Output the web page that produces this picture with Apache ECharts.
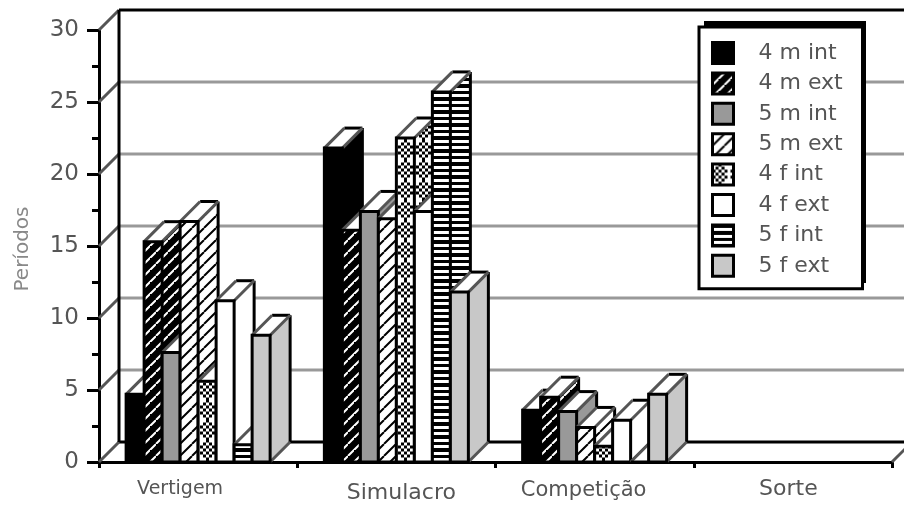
<!DOCTYPE html>
<html>
<head>
<meta charset="utf-8">
<style>html,body{margin:0;padding:0;background:#fff}#chart{width:904px;height:506px}</style>
<script src="https://cdn.jsdelivr.net/npm/echarts@6/dist/echarts.min.js"></script>
</head>
<body>
<div id="chart"></div>
<script>
// Períodos por categoria de jogo, por grupo (ano, sexo, tipo)
const categories = ['Vertigem', 'Simulacro', 'Competição', 'Sorte'];
const yTicks = [0, 5, 10, 15, 20, 25, 30];
const seriesNames = ['4 m int', '4 m ext', '5 m int', '5 m ext', '4 f int', '4 f ext', '5 f int', '5 f ext'];
const m4Int = [4.7, 21.8, 3.6, null];
const m4Ext = [15.3, 16.1, 4.5, null];
const m5Int = [7.6, 17.4, 3.5, null];
const m5Ext = [16.7, 16.9, 2.4, null];
const f4Int = [5.6, 22.5, 1.1, null];
const f4Ext = [11.2, 17.4, 2.9, null];
const f5Int = [1.2, 25.7, 0, null];
const f5Ext = [8.8, 11.8, 4.7, null];
const allValues = [m4Int, m4Ext, m5Int, m5Ext, f4Int, f4Ext, f5Int, f5Ext];

const DEPTH = 20;
const BAR_STEP = 18;
const BAR_COUNT = 8;
const TEXT_FONT = 'DejaVu Sans';

function tile(w, h, paint) {
  const c = document.createElement('canvas');
  c.width = w; c.height = h;
  paint(c.getContext('2d'));
  return { image: c, repeat: 'repeat' };
}
function hatch(ctx, size, color, width) {
  ctx.strokeStyle = color; ctx.lineWidth = width;
  ctx.beginPath();
  [-size, 0, size].forEach(function (o) {
    ctx.moveTo(o, size); ctx.lineTo(o + size, 0);
  });
  ctx.stroke();
}
const darkHatch = tile(12, 12, function (ctx) {
  ctx.fillStyle = '#000'; ctx.fillRect(0, 0, 12, 12);
  hatch(ctx, 12, '#fff', 2);
  ctx.fillStyle = '#000';
  ctx.fillRect(0, 0, 2, 3); ctx.fillRect(6, 6, 3, 2);
});
const lightHatch = tile(12, 12, function (ctx) {
  ctx.fillStyle = '#fff'; ctx.fillRect(0, 0, 12, 12);
  hatch(ctx, 12, '#000', 2);
});
// Checkered diamond, three pixels per cell, five cells across
const diamonds = tile(18, 20, function (ctx) {
  ctx.fillStyle = '#fff'; ctx.fillRect(0, 0, 18, 20);
  ctx.fillStyle = '#000';
  for (let gx = 0; gx < 5; gx++) {
    for (let gy = 0; gy < 7; gy++) {
      if (Math.abs(gx - 2) + Math.abs(gy - 3) <= 3 && (gx + gy) % 2 === 0) {
        ctx.fillRect(gx * 3, gy * 3 - 0.5, 3, 3);
      }
    }
  }
});
const stripes = tile(4, 13, function (ctx) {
  ctx.fillStyle = '#fff'; ctx.fillRect(0, 0, 4, 13);
  ctx.fillStyle = '#000';
  ctx.fillRect(0, 0, 4, 3); ctx.fillRect(0, 6, 4, 4);
});
const fills = ['#000000', darkHatch, '#999999', lightHatch, diamonds, '#ffffff', stripes, '#c8c8c8'];

// Back wall and floor: gridlines plus the slanted joints to the front axes
function renderWall(params, api) {
  const v = api.value(1);
  const a = api.coord([0, v]);
  const halfBand = api.size([1, 0])[0] / 2;
  const left = a[0] - halfBand;
  const right = left + halfBand * 2 * categories.length;
  const y = a[1];
  const edge = v === 0 || v === 30;
  const children = [
    { type: 'line', shape: { x1: left + DEPTH, y1: y - DEPTH, x2: right + DEPTH, y2: y - DEPTH },
      style: { stroke: edge ? '#000' : '#999', lineWidth: 3 } },
    { type: 'line', shape: { x1: left, y1: y, x2: left + DEPTH, y2: y - DEPTH },
      style: { stroke: '#555', lineWidth: 3 } }
  ];
  if (v === 0) {
    children.push({ type: 'line', shape: { x1: right, y1: y, x2: right + DEPTH, y2: y - DEPTH },
      style: { stroke: '#555', lineWidth: 3 } });
  }
  if (v === 30) {
    const floor = api.coord([0, 0])[1];
    children.push({ type: 'line', shape: { x1: left + DEPTH, y1: y - DEPTH, x2: left + DEPTH, y2: floor - DEPTH },
      style: { stroke: '#000', lineWidth: 3 } });
  }
  return { type: 'group', children: children };
}

// One oblique box: side face, top face and front face
function renderBox(index) {
  return function (params, api) {
    const v = api.value(1);
    if (isNaN(v)) return;
    const p = api.coord([api.value(0), v]);
    const base = api.coord([api.value(0), 0])[1];
    const x = p[0] - BAR_STEP * BAR_COUNT / 2 + BAR_STEP * index;
    const r = x + BAR_STEP;
    const y = p[1];
    // The diamond tile is anchored to the box so whole diamonds fit each face
    const fill = fills[index] === diamonds
      ? { image: diamonds.image, repeat: 'repeat', x: Math.round(x + 1.5), y: 0 }
      : fills[index];
    const ink = { stroke: '#000', lineWidth: 3 };
    const slant = { stroke: '#555', lineWidth: 3 };
    return {
      type: 'group',
      children: [
        { type: 'polygon', shape: { points: [[r, y], [r + DEPTH, y - DEPTH], [r + DEPTH, base - DEPTH], [r, base]] },
          style: { fill: fill, stroke: null } },
        { type: 'polygon', shape: { points: [[x, y], [x + DEPTH, y - DEPTH], [r + DEPTH, y - DEPTH], [r, y]] },
          style: { fill: '#fff', stroke: null } },
        { type: 'line', shape: { x1: x + DEPTH, y1: y - DEPTH, x2: r + DEPTH, y2: y - DEPTH }, style: ink },
        { type: 'line', shape: { x1: r + DEPTH, y1: y - DEPTH, x2: r + DEPTH, y2: base - DEPTH }, style: ink },
        { type: 'line', shape: { x1: x, y1: y, x2: x + DEPTH, y2: y - DEPTH }, style: slant },
        { type: 'line', shape: { x1: r, y1: y, x2: r + DEPTH, y2: y - DEPTH }, style: slant },
        { type: 'line', shape: { x1: r, y1: base, x2: r + DEPTH, y2: base - DEPTH }, style: slant },
        { type: 'rect', shape: { x: x, y: y, width: BAR_STEP, height: base - y },
          style: { fill: fill, stroke: '#000', lineWidth: 3 } }
      ]
    };
  };
}

const boxSeries = seriesNames.map(function (name, i) {
  return {
    name: name,
    type: 'custom',
    coordinateSystem: 'cartesian2d',
    clip: false,
    itemStyle: { color: typeof fills[i] === 'string' ? fills[i] : '#000' },
    renderItem: renderBox(i),
    data: allValues[i].map(function (v, c) { return [c, v]; })
  };
});

const chart = echarts.init(document.getElementById('chart'));
chart.setOption({
  animation: false,
  backgroundColor: '#fff',
  grid: { left: 99, right: 12, top: 30, bottom: 44 },
  // Drop shadow of the legend box, offset up and to the right
  graphic: [{
    type: 'rect',
    z: 3,
    silent: true,
    shape: { x: 704, y: 21, width: 162, height: 262 },
    style: { fill: '#000' }
  }],
  xAxis: {
    type: 'category',
    data: [
      { value: categories[0], textStyle: { fontSize: 19, padding: [2, 36, 0, 0] } },
      { value: categories[1], textStyle: { fontSize: 22, padding: [4, 0, 0, 10] } },
      { value: categories[2], textStyle: { fontSize: 21, padding: [2, 22, 0, 0] } },
      { value: categories[3], textStyle: { fontSize: 22, padding: [0, 9, 0, 0] } }
    ],
    boundaryGap: true,
    axisLine: { lineStyle: { color: '#000', width: 3 } },
    axisTick: { show: true, length: 6, lineStyle: { color: '#000', width: 3 } },
    axisLabel: { color: '#555', fontFamily: TEXT_FONT, fontSize: 18, margin: 16, interval: 0 },
    splitLine: { show: false }
  },
  yAxis: {
    type: 'value',
    min: 0,
    max: 30,
    interval: 5,
    name: 'Períodos',
    nameLocation: 'middle',
    nameRotate: 90,
    nameGap: 66,
    nameTextStyle: { color: '#888', fontFamily: TEXT_FONT, fontSize: 20, padding: [0, 6, 0, 0] },
    axisLine: { show: true, lineStyle: { color: '#000', width: 3 } },
    axisTick: { show: true, length: 12, lineStyle: { color: '#000', width: 3 } },
    minorTick: { show: true, splitNumber: 2, length: 7, lineStyle: { color: '#000', width: 3 } },
    axisLabel: { color: '#555', fontFamily: TEXT_FONT, fontSize: 23, margin: 20 },
    splitLine: { show: false }
  },
  legend: {
    z: 4,
    left: 699,
    top: 27,
    orient: 'vertical',
    icon: 'rect',
    itemWidth: 21,
    itemHeight: 21,
    itemGap: 6.4,
    padding: [14, 8, 11, 12],
    backgroundColor: '#fff',
    borderColor: '#000',
    borderWidth: 3,
    borderRadius: 0,
    selectedMode: false,
    textStyle: { color: '#555', fontFamily: TEXT_FONT, fontSize: 22, lineHeight: 20, padding: [0, 0, 0, 20], width: 96 },
    data: seriesNames.map(function (name, i) {
      return { name: name, itemStyle: { color: fills[i], borderColor: '#000', borderWidth: 3 } };
    })
  },
  series: [{
    name: 'parede',
    type: 'custom',
    coordinateSystem: 'cartesian2d',
    clip: false,
    silent: true,
    renderItem: renderWall,
    data: yTicks.map(function (v) { return [0, v]; })
  }].concat(boxSeries)
});
</script>
</body>
</html>
